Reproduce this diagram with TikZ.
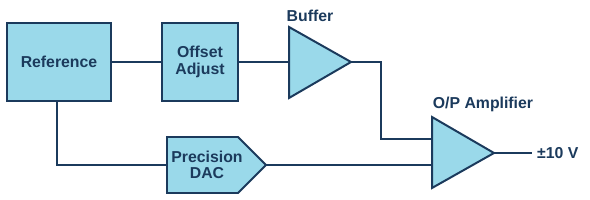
\documentclass[tikz,border=0pt]{standalone}
\usepackage{fontspec}
\setmainfont{Liberation Sans}
\definecolor{fillc}{HTML}{9AD9EA}
\definecolor{navy}{HTML}{1B3A5C}
\begin{document}
\begin{tikzpicture}[x=0.03cm,y=-0.03cm,
  blk/.style={draw=navy,fill=fillc,line width=1.7pt},
  wire/.style={draw=navy,line width=1.7pt},
  lbl/.style={text=navy,font=\fontsize{13.5}{15}\selectfont\bfseries,align=center,inner sep=0pt}]
\useasboundingbox (0,0) rectangle (590,200);
% Reference
\draw[blk] (7,23) rectangle (111,101);
\node[lbl] (ref) at (59,62) {Reference};
\coordinate (refR) at (111,62);
\coordinate (refB) at (57,101);
% Offset adjust
\draw[blk] (162,23) rectangle (238,101);
\node[lbl] (off) at (200,62) {Offset\\[-1pt]Adjust};
\coordinate (offL) at (162,62);
\coordinate (offR) at (238,62);
% Buffer
\draw[blk] (289,27) -- (351,62) -- (289,98) -- cycle;
\coordinate (bufL) at (289,62);
\coordinate (bufO) at (351,62);
\node[lbl] (buflbl) at (310,16) {Buffer};
% Precision DAC
\draw[blk] (167,137) -- (238,137) -- (266,165) -- (238,193) -- (167,193) -- cycle;
\node[lbl] (dac) at (207,165) {Precision\\[-1pt]DAC};
\coordinate (dacL) at (167,165);
\coordinate (dacO) at (266,165);
% O/P amplifier
\draw[blk] (432,117) -- (494,153) -- (432,188) -- cycle;
\coordinate (ampA) at (432,139);
\coordinate (ampB) at (432,165);
\coordinate (ampO) at (494,153);
\node[lbl] (amplbl) at (483,104) {O/P Amplifier};
\coordinate (outE) at (532,153);
\node[lbl,anchor=west] (outlbl) at (537,153) {±10 V};
% wires
\draw[wire] (refR) -- (offL);
\draw[wire] (offR) -- (bufL);
\draw[wire] (bufO) -- (381,62) |- (ampA);
\draw[wire] (refB) |- (dacL);
\draw[wire] (dacO) -- (ampB);
\draw[wire] (ampO) -- (outE);
\end{tikzpicture}
\end{document}
